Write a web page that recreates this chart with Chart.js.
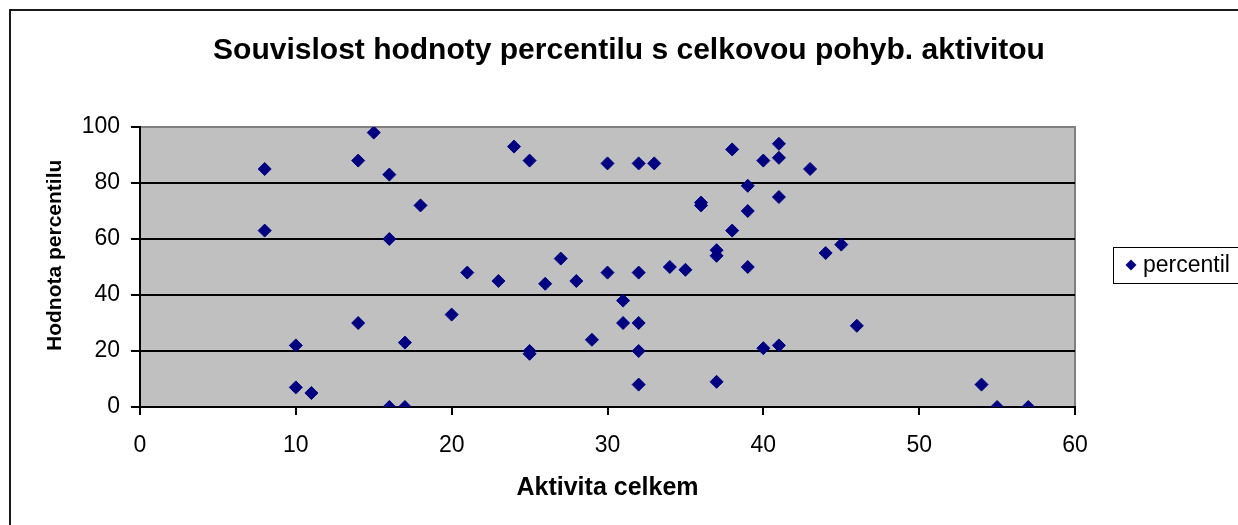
<!DOCTYPE html>
<html>
<head>
<meta charset="utf-8">
<script src="https://cdn.jsdelivr.net/npm/chart.js@4"></script>
<style>
  html, body { margin: 0; padding: 0; background: #fff; overflow: hidden; }
  #wrap { position: relative; width: 1238px; height: 525px; }
  #frame {
    position: absolute; left: 9px; top: 9px; width: 1300px; height: 600px;
    border: 2px solid #1a1a1a; box-sizing: border-box; pointer-events: none;
  }
  canvas { position: absolute; left: 0; top: 0; }
</style>
</head>
<body>
<div id="wrap">
  <canvas id="myChart" width="1238" height="525"></canvas>
  <div id="frame"></div>
</div>
<script>
// data
const aktivita = [8, 8, 10, 10, 11, 14, 14, 15, 16, 16, 16, 17, 17, 18, 20, 21, 23, 24, 25, 25, 25,
  26, 27, 28, 29, 30, 30, 31, 31, 32, 32, 32, 32, 32, 33, 34, 35, 36, 36, 37, 37, 37,
  38, 38, 39, 39, 39, 40, 40, 41, 41, 41, 41, 43, 44, 45, 46, 54, 55, 57];
const percentil = [85, 63, 22, 7, 5, 88, 30, 98, 83, 60, 0, 0, 23, 72, 33, 48, 45, 93, 88, 20, 19,
  44, 53, 45, 24, 87, 48, 38, 30, 87, 48, 30, 20, 8, 87, 50, 49, 73, 72, 56, 54, 9,
  92, 63, 79, 70, 50, 88, 21, 94, 89, 75, 22, 85, 55, 58, 29, 8, 0, 0];
const xTicks = [0, 10, 20, 30, 40, 50, 60];
const yTicks = [0, 20, 40, 60, 80, 100];

const FONT = "'Liberation Sans', Arial, sans-serif";
const NAVY = "#000080";

// grey plot area with grey top/right edges
const plotBg = {
  id: "plotBg",
  beforeDraw(chart) {
    const { ctx, chartArea: a } = chart;
    ctx.save();
    ctx.fillStyle = "#C0C0C0";
    ctx.fillRect(a.left, a.top, a.right - a.left, a.bottom - a.top);
    ctx.strokeStyle = "#808080";
    ctx.lineWidth = 2;
    ctx.beginPath();
    ctx.moveTo(a.left, a.top);
    ctx.lineTo(a.right, a.top);
    ctx.lineTo(a.right, a.bottom);
    ctx.stroke();
    ctx.restore();
  }
};

// legend box on the right, like the excel one
const boxLegend = {
  id: "boxLegend",
  afterDraw(chart) {
    const ctx = chart.ctx;
    const ds = chart.data.datasets[0];
    ctx.save();
    ctx.strokeStyle = "#000";
    ctx.lineWidth = 1;
    ctx.strokeRect(1113.5, 247.5, 200, 36);
    const cx = 1131, cy = 265, r = 5.5;
    ctx.fillStyle = ds.backgroundColor;
    ctx.beginPath();
    ctx.moveTo(cx - r, cy);
    ctx.lineTo(cx, cy - r);
    ctx.lineTo(cx + r, cy);
    ctx.lineTo(cx, cy + r);
    ctx.closePath();
    ctx.fill();
    ctx.fillStyle = "#000";
    ctx.font = "23px " + FONT;
    ctx.textBaseline = "middle";
    ctx.fillText(ds.label, 1143, cy + 1);
    ctx.restore();
  }
};

const points = aktivita.map((x, i) => ({ x: x, y: percentil[i] }));

const ctx = document.getElementById("myChart").getContext("2d");
new Chart(ctx, {
  type: "scatter",
  data: {
    datasets: [
      {
        label: "percentil",
        data: points,
        pointStyle: "rectRot",
        pointRadius: 6.5,
        pointHoverRadius: 6.5,
        backgroundColor: NAVY,
        borderColor: NAVY,
        borderWidth: 1,
      },
    ],
  },
  options: {
    responsive: false,
    animation: false,
    events: [],
    layout: { padding: { left: 20, right: 0, top: 0, bottom: 0 } },
    plugins: {
      legend: { display: false },
      tooltip: { enabled: false },
      title: {
        display: true,
        text: "Souvislost hodnoty percentilu s celkovou pohyb. aktivitou",
        color: "#000",
        font: { family: FONT, size: 30, weight: "bold", lineHeight: 1.2 },
        padding: { top: 33, bottom: 58 },
      },
    },
    scales: {
      x: {
        type: "linear",
        min: 0,
        max: 60,
        afterFit: (scale) => { scale.height = 118; },
        afterBuildTicks: (scale) => { scale.ticks = xTicks.map((v) => ({ value: v })); },
        ticks: {
          color: "#000",
          padding: 17,
          font: { family: FONT, size: 23 },
        },
        grid: {
          drawOnChartArea: false,
          drawTicks: true,
          tickLength: 8,
          tickColor: "#000",
          lineWidth: 2,
        },
        border: { display: true, color: "#000", width: 2 },
        title: {
          display: true,
          text: "Aktivita celkem",
          color: "#000",
          font: { family: FONT, size: 25, weight: "bold", lineHeight: 1.2 },
          padding: { top: 0, bottom: 22 },
        },
      },
      y: {
        type: "linear",
        min: 0,
        max: 100,
        afterFit: (scale) => { scale.width = 120; },
        afterBuildTicks: (scale) => { scale.ticks = yTicks.map((v) => ({ value: v })); },
        ticks: {
          color: "#000",
          padding: 11,
          font: { family: FONT, size: 23 },
        },
        grid: {
          color: (c) => (c.tick && c.tick.value === 100 ? "#808080" : "#000"),
          lineWidth: 2,
          drawTicks: true,
          tickLength: 9,
          tickColor: "#000",
        },
        border: { display: true, color: "#000", width: 2 },
        title: {
          display: true,
          // leading spaces lift the label a bit, as excel placed it above centre
          text: "    Hodnota percentilu",
          color: "#000",
          font: { family: FONT, size: 21, weight: "bold", lineHeight: 1.2 },
          padding: { top: 22.4, bottom: 0 },
        },
      },
      // empty right-hand axis that only reserves room for the legend
      spacer: {
        type: "linear",
        position: "right",
        display: true,
        afterFit: (scale) => { scale.width = 163; },
        ticks: { display: false },
        grid: { display: false, drawTicks: false },
        border: { display: false },
      },
    },
  },
  plugins: [plotBg, boxLegend],
});
</script>
</body>
</html>
